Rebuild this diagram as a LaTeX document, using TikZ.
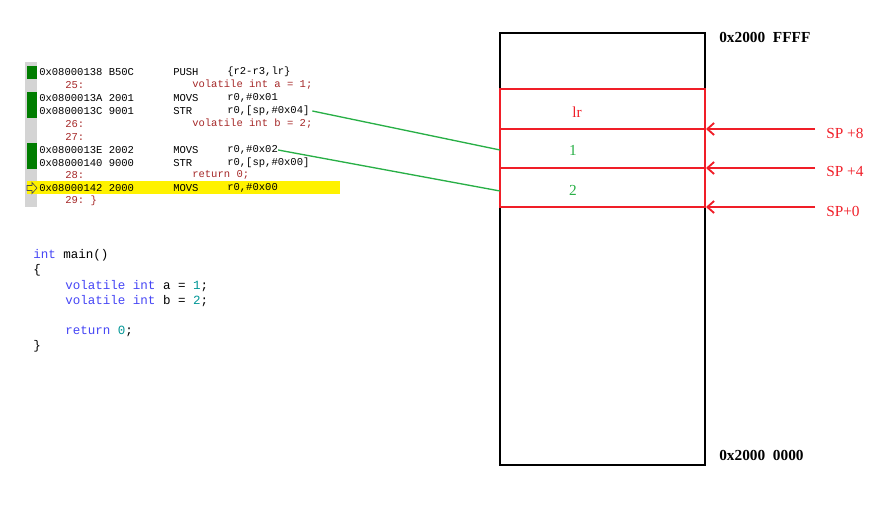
\documentclass[tikz,border=0pt]{standalone}
\usepackage{fontspec}
\setmainfont{Liberation Serif}
\setmonofont{Liberation Mono}
\usetikzlibrary{arrows.meta}

\definecolor{srcred}{RGB}{165,40,40}
\definecolor{markgreen}{RGB}{0,125,0}
\definecolor{bargray}{RGB}{212,212,212}
\definecolor{stackred}{RGB}{240,30,40}
\definecolor{linkgreen}{RGB}{40,175,70}
\definecolor{kwblue}{RGB}{70,70,245}
\definecolor{numteal}{RGB}{0,150,150}

\newcommand{\kw}[1]{\textcolor{kwblue}{#1}}
\newcommand{\num}[1]{\textcolor{numteal}{#1}}

\begin{document}
\begin{tikzpicture}[x=0.75pt,y=-0.75pt,
    dis/.style={anchor=west,inner sep=0pt,font=\ttfamily\fontsize{7.9}{9}\selectfont},
    src/.style={dis,text=srcred},
    code/.style={anchor=west,inner sep=0pt,font=\ttfamily\fontsize{9.4}{11}\selectfont},
    slot/.style={draw=stackred,line width=1.5pt},
    spin/.style={stackred,line width=1.4pt,-{Straight Barb[length=5pt,width=9pt]}},
    link/.style={linkgreen,line width=1pt},
    addr/.style={anchor=west,inner sep=0pt,font=\bfseries\fontsize{11.5}{13}\selectfont}]
   \useasboundingbox (0,0) rectangle (882,513);

   % disassembly window
   \fill[bargray] (25,62) rectangle (37,207);
   \fill[markgreen] (27,66) rectangle (37,79);
   \fill[markgreen] (27,92) rectangle (37,118);
   \fill[markgreen] (27,143) rectangle (37,169);
   \fill[yellow] (27,181) rectangle (340,194);
   \filldraw[fill=yellow,draw=black!70,line width=0.5pt]
    (27,185.5) -- (32,185.5) -- (32,182.5) -- (37,188) -- (32,193.5) -- (32,190.5) -- (27,190.5) -- cycle;
   \foreach \i/\y/\code/\mn/\arg in {1/72/0x08000138 B50C/PUSH/{\{r2-r3,lr\}},
      3/98/0x0800013A 2001/MOVS/{r0,\#0x01},
      4/111/0x0800013C 9001/STR/{r0,[sp,\#0x04]},
      7/150/0x0800013E 2002/MOVS/{r0,\#0x02},
      8/163/0x08000140 9000/STR/{r0,[sp,\#0x00]},
      10/188/0x08000142 2000/MOVS/{r0,\#0x00}} {
    \node[dis] (ad\i) at (39,\y) {\code};
    \node[dis] (mn\i) at (173,\y) {\mn};
    \node[dis] (op\i) at (227,\y) {\arg};
   }
   \foreach \i/\y/\ln/\txt in {2/85/25:/volatile int a = 1;,
      5/124/26:/volatile int b = 2;,
      6/137/27:/,
      9/175/28:/return 0;,
      11/201/29: \}/} {
    \node[src] (ln\i) at (65,\y) {\ln};
    \node[src] (sr\i) at (192,\y) {\txt};
   }

   % C source
   \node[code] (main) at (33,255) {\kw{int} main()};
   \node[code] (open) at (33,270) {\{};
   \node[code] (vara) at (65,286) {\kw{volatile int} a = \num{1};};
   \node[code] (varb) at (65,301) {\kw{volatile int} b = \num{2};};
   \node[code] (ret)  at (65,331) {\kw{return} \num{0};};
   \node[code] (close) at (33,346) {\}};

   % stack
   \draw[line width=1.5pt] (500,33) rectangle (705,465);
   \draw[slot] (500,89) rectangle (705,129);
   \draw[slot] (500,129) rectangle (705,168);
   \draw[slot] (500,168) rectangle (705,207);
   \node[text=stackred,font=\fontsize{11.5}{13}\selectfont] (lr) at (577,112) {lr};
   \node[text=linkgreen,font=\fontsize{11.5}{13}\selectfont] (vala) at (573,150) {1};
   \node[text=linkgreen,font=\fontsize{11.5}{13}\selectfont] (valb) at (573,190) {2};
   \coordinate (slota) at (500,150);
   \coordinate (slotb) at (500,191);
   \node[addr] (top) at (719,37) {0x2000\ \ FFFF};
   \node[addr] (bot) at (719,455) {0x2000\ \ 0000};

   % stack pointer offsets
   \foreach \n/\y/\t in {8/129/SP +8,4/168/SP +4,0/207/SP+0} {
    \coordinate (sp\n) at (815,\y);
    \coordinate (edge\n) at (706,\y);
    \draw[spin] (sp\n) -- (edge\n);
    \node[anchor=west,inner sep=0pt,text=stackred,font=\fontsize{11.5}{13}\selectfont]
     (lab\n) at (826,\y+4) {\t};
   }

   % stores into the stack
   \draw[link] ([xshift=2pt]op4.east) -- (slota);
   \draw[link] (op7.east) -- (slotb);
\end{tikzpicture}
\end{document}
